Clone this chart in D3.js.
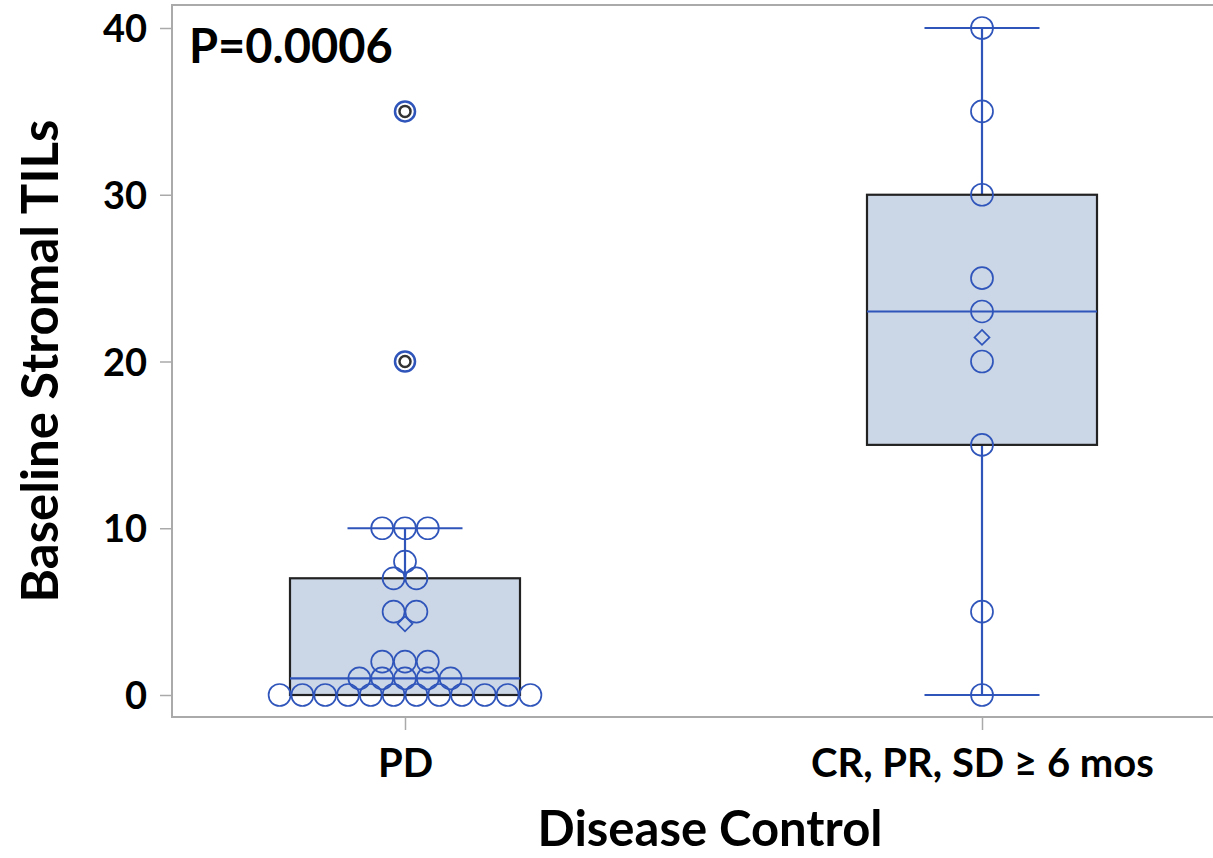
<!DOCTYPE html>
<html>
<head>
<meta charset="utf-8">
<script src="https://d3js.org/d3.v7.min.js"></script>
<style>
  body { margin: 0; background: #fff; }
  text { font-family: Lato, "Noto Sans", sans-serif; font-weight: bold; fill: #000; }
</style>
</head>
<body>
<svg width="1213" height="858"></svg>
<script>
// groups on the x axis
var groups = ["PD", "CR, PR, SD \u2265 6 mos"];
// individual baseline stromal TIL values per group
var pdValues = [0,0,0,0,0,0,0,0,0,0,0,0, 1,1,1,1,1, 2,2,2, 5,5, 7,7, 8, 10,10,10, 20, 35];
var crValues = [0, 5, 15, 20, 23, 25, 30, 35, 40];
var yTicks = [0, 10, 20, 30, 40];
var pText = "P=0.0006";

var width = 1213, height = 858;
var margin = {top: 5, bottom: 141, left: 172};
var svg = d3.select("svg");

var x = d3.scalePoint()
  .domain(groups)
  .range([margin.left + 233, margin.left + 810]);
var y = d3.scaleLinear()
  .domain([0, 40])
  .range([695, 28]);

var blue = "#2f55bb";
var r = 11;

// frame
svg.append("rect")
  .attr("x", margin.left).attr("y", margin.top)
  .attr("width", width - margin.left + 20)
  .attr("height", height - margin.bottom - margin.top)
  .attr("fill", "none").attr("stroke", "#aaa").attr("stroke-width", 2);

// axes
var yAxis = svg.append("g")
  .attr("transform", "translate(" + margin.left + ",0)")
  .call(d3.axisLeft(y).tickValues(yTicks).tickSize(12).tickPadding(13));
yAxis.select(".domain").remove();
yAxis.selectAll("line").attr("stroke", "#aaa").attr("stroke-width", 1.5);
yAxis.selectAll("text").style("font-size", "38px").attr("dy", "0.36em");

var xAxis = svg.append("g")
  .attr("transform", "translate(0," + (height - margin.bottom) + ")")
  .call(d3.axisBottom(x).tickSize(13));
xAxis.select(".domain").remove();
xAxis.selectAll("line").attr("stroke", "#aaa").attr("stroke-width", 1.5);
xAxis.selectAll("text").style("font-size", "40px").attr("y", 60).attr("dy", null);

svg.append("text")
  .attr("x", 710).attr("y", 846)
  .attr("text-anchor", "middle")
  .style("font-size", "49px")
  .text("Disease Control");

svg.append("text")
  .attr("transform", "translate(58,361) rotate(-90)")
  .attr("text-anchor", "middle")
  .style("font-size", "51px")
  .text("Baseline Stromal TILs");

svg.append("text")
  .attr("x", 189).attr("y", 63)
  .style("font-size", "47px")
  .text(pText);

// percentiles the way SAS does by default (definition 5)
function pct(s, p) {
  var np = s.length * p, j = Math.floor(np);
  if (np === j) return (s[j - 1] + s[j]) / 2;
  return s[j];
}
function stats(vals) {
  var s = vals.slice().sort(d3.ascending);
  var q1 = pct(s, 0.25), med = pct(s, 0.5), q3 = pct(s, 0.75);
  var iqr = q3 - q1, lf = q1 - 1.5 * iqr, uf = q3 + 1.5 * iqr;
  var inside = s.filter(function(v) { return v >= lf && v <= uf; });
  return {q1: q1, med: med, q3: q3, mean: d3.mean(s),
          lo: d3.min(inside), hi: d3.max(inside),
          out: s.filter(function(v) { return v < lf || v > uf; })};
}

var boxW = 230, capW = 115;
var data = [pdValues, crValues];

data.forEach(function(vals, gi) {
  var cx = x(groups[gi]);
  var st = stats(vals);
  var g = svg.append("g");
  // whiskers
  g.append("line").attr("x1", cx).attr("x2", cx)
    .attr("y1", y(st.q3)).attr("y2", y(st.hi))
    .attr("stroke", blue).attr("stroke-width", 2.2);
  g.append("line").attr("x1", cx).attr("x2", cx)
    .attr("y1", y(st.q1)).attr("y2", y(st.lo))
    .attr("stroke", blue).attr("stroke-width", 2.2);
  [st.hi, st.lo].forEach(function(v) {
    g.append("line").attr("x1", cx - capW / 2).attr("x2", cx + capW / 2)
      .attr("y1", y(v)).attr("y2", y(v))
      .attr("stroke", blue).attr("stroke-width", 2.2);
  });
  // box
  g.append("rect")
    .attr("x", cx - boxW / 2).attr("width", boxW)
    .attr("y", y(st.q3)).attr("height", y(st.q1) - y(st.q3))
    .attr("fill", "#cbd6e6").attr("stroke", "#222").attr("stroke-width", 2.2);
  g.append("line").attr("x1", cx - boxW / 2).attr("x2", cx + boxW / 2)
    .attr("y1", y(st.med)).attr("y2", y(st.med))
    .attr("stroke", blue).attr("stroke-width", 2.2);
  // mean diamond
  var my = y(st.mean), d = 7.5;
  g.append("path")
    .attr("d", "M" + cx + "," + (my - d) + "L" + (cx + d) + "," + my + "L" + cx + "," + (my + d) + "L" + (cx - d) + "," + my + "Z")
    .attr("fill", "none").attr("stroke", blue).attr("stroke-width", 1.7);

  // points, side by side when values repeat
  var counts = d3.rollup(vals, function(v) { return v.length; }, function(v) { return v; });
  var seen = new Map();
  var pts = vals.map(function(v) {
    var k = counts.get(v), i = seen.get(v) || 0;
    seen.set(v, i + 1);
    return {v: v, dx: (i - (k - 1) / 2) * 22.8};
  });
  g.selectAll("circle.pt").data(pts).enter().append("circle")
    .attr("class", "pt")
    .attr("cx", function(p) { return cx + p.dx; })
    .attr("cy", function(p) { return y(p.v); })
    .attr("r", function(p) { return st.out.indexOf(p.v) >= 0 ? 10 : r; })
    .attr("fill", "none").attr("stroke", blue)
    .attr("stroke-width", function(p) { return st.out.indexOf(p.v) >= 0 ? 2.5 : 1.7; });
  // outlier markers
  g.selectAll("circle.out").data(st.out).enter().append("circle")
    .attr("class", "out")
    .attr("cx", cx).attr("cy", function(v) { return y(v); })
    .attr("r", 5.5)
    .attr("fill", "none").attr("stroke", "#333").attr("stroke-width", 2.5);
});
</script>
</body>
</html>
